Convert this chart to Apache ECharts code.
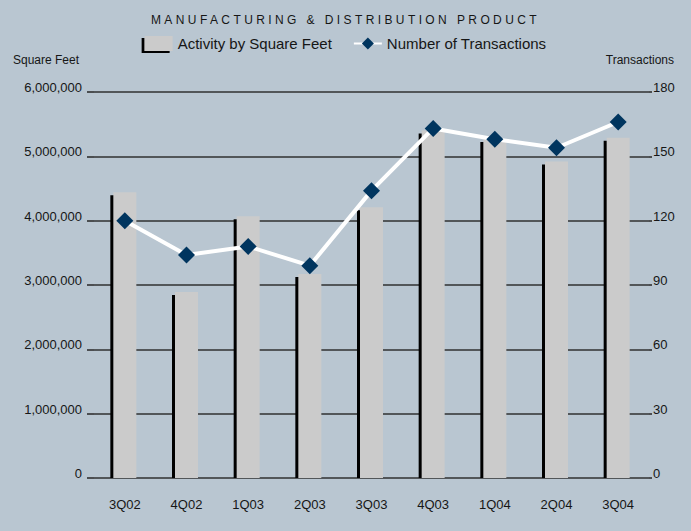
<!DOCTYPE html>
<html>
<head>
<meta charset="utf-8">
<script src="https://cdn.jsdelivr.net/npm/echarts@6/dist/echarts.min.js"></script>
<style>
  html, body { margin: 0; padding: 0; background: #b9c6d1; }
  #chart { width: 691px; height: 531px; }
</style>
</head>
<body>
<div id="chart"></div>
<script>
// Quarterly manufacturing & distribution activity
const quarters = ['3Q02', '4Q02', '1Q03', '2Q03', '3Q03', '4Q03', '1Q04', '2Q04', '3Q04'];
const squareFeet = [4440000, 2890000, 4070000, 3170000, 4210000, 5400000, 5270000, 4920000, 5290000];
const transactions = [120, 104, 108, 99, 134, 163, 158, 154, 166];
const sqftTicks = { min: 0, max: 6000000, interval: 1000000 };
const txTicks = { min: 0, max: 180, interval: 30 };

const TITLE = 'MANUFACTURING & DISTRIBUTION PRODUCT';
const sans = "'Liberation Sans', Arial, sans-serif";
const ink = '#161616';
const rule = { color: '#303030', width: 1.6 };
const barFill = '#cbcbcb';
const BAR_W = 23;   // face width of each bar
const DEPTH = 3;    // offset of the dark edge behind each bar

const chart = echarts.init(document.getElementById('chart'), null, { renderer: 'svg' });

// Bar with a dark offset edge to the lower left, drawn from the data through the axes
function renderBar(params, api) {
  const top = api.coord([api.value(0), api.value(1)]);
  const base = api.coord([api.value(0), 0]);
  const x0 = top[0] - BAR_W / 2;
  return {
    type: 'group',
    children: [
      {
        type: 'rect',
        shape: { x: x0 - DEPTH, y: top[1] + DEPTH, width: BAR_W, height: base[1] - top[1] - DEPTH },
        style: { fill: '#000000' }
      },
      {
        type: 'rect',
        shape: { x: x0, y: top[1], width: BAR_W, height: base[1] - top[1] },
        style: { fill: api.visual('color') }
      }
    ]
  };
}

chart.setOption({
  backgroundColor: '#b9c6d1',
  animation: false,
  title: {
    text: TITLE,
    left: 'center',
    top: 9,
    textStyle: { fontFamily: sans, fontSize: 12, fontWeight: 'normal', color: ink }
  },
  legend: {
    top: 31,
    left: 'center',
    itemWidth: 28,
    itemHeight: 15,
    itemGap: 21,
    textStyle: { fontFamily: sans, fontSize: 15, color: ink },
    data: [
      { name: 'Activity by Square Feet', icon: 'rect',
        itemStyle: { color: barFill, shadowColor: '#000', shadowOffsetX: -3, shadowOffsetY: 2, shadowBlur: 0 } },
      { name: 'Number of Transactions' }
    ]
  },
  graphic: [
    { type: 'text', left: 13, top: 54, style: { text: 'Square Feet', font: '12px ' + sans, fill: ink } },
    { type: 'text', right: 17, top: 54, style: { text: 'Transactions', font: '12px ' + sans, fill: ink } }
  ],
  grid: { left: 94, right: 42, top: 92, bottom: 53 },
  xAxis: {
    type: 'category',
    data: quarters,
    axisLine: { show: false },
    axisTick: { show: false },
    axisLabel: { fontFamily: sans, fontSize: 13, color: ink, margin: 20 }
  },
  yAxis: [
    {
      type: 'value',
      min: sqftTicks.min, max: sqftTicks.max, interval: sqftTicks.interval,
      axisLine: { show: false },
      axisTick: { show: true, length: 7, lineStyle: rule },
      splitLine: { show: true, lineStyle: rule },
      axisLabel: {
        fontFamily: sans, fontSize: 13, color: ink, margin: 12,
        verticalAlign: 'bottom', lineHeight: 9,
        formatter: v => v.toLocaleString('en-US')
      }
    },
    {
      type: 'value',
      min: txTicks.min, max: txTicks.max, interval: txTicks.interval,
      axisLine: { show: false },
      axisTick: { show: true, length: 3, lineStyle: rule },
      splitLine: { show: false },
      axisLabel: {
        fontFamily: sans, fontSize: 13, color: ink, margin: 4,
        verticalAlign: 'bottom', lineHeight: 9
      }
    }
  ],
  series: [
    {
      name: 'Activity by Square Feet',
      type: 'custom',
      renderItem: renderBar,
      encode: { x: 0, y: 1 },
      data: quarters.map((q, i) => [i, squareFeet[i]]),
      itemStyle: { color: barFill },
      z: 2
    },
    {
      name: 'Number of Transactions',
      type: 'line',
      yAxisIndex: 1,
      data: transactions,
      symbol: 'diamond',
      symbolSize: 17,
      lineStyle: { color: '#ffffff', width: 4 },
      itemStyle: { color: '#00355f' },
      z: 5
    }
  ]
});

// Spaced-out capitals for the heading
function spaceTitle() {
  document.querySelectorAll('#chart svg text').forEach(t => {
    if (t.textContent === TITLE) t.setAttribute('letter-spacing', '3.4');
  });
}
spaceTitle();
chart.on('rendered', spaceTitle);
</script>
</body>
</html>
